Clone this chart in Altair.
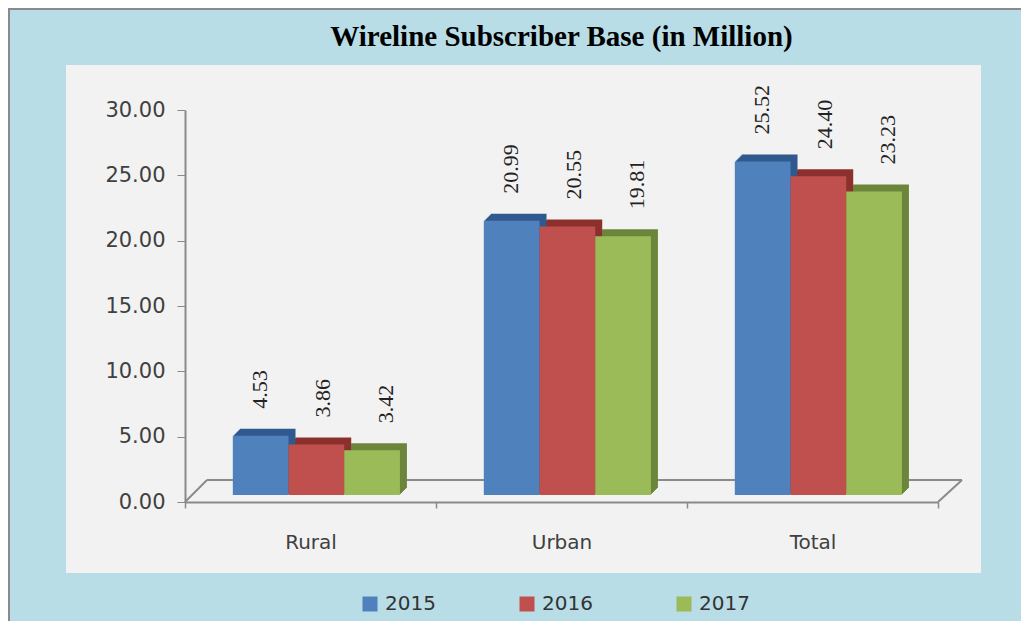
import altair as alt
import pandas as pd

categories = ["Rural", "Urban", "Total"]
years = ["2015", "2016", "2017"]
values_2015 = [4.53, 20.99, 25.52]
values_2016 = [3.86, 20.55, 24.40]
values_2017 = [3.42, 19.81, 23.23]
y_ticks = [0, 5, 10, 15, 20, 25, 30]

front_colors = ["#4f81bd", "#c0504d", "#9bbb59"]
depth_colors = ["#30598f", "#8c302d", "#6b863a"]

rows = []
for yr, vals in zip(years, [values_2015, values_2016, values_2017]):
    for c, v in zip(categories, vals):
        rows.append({"category": c, "year": yr, "value": v, "label": f"{v:.2f}"})
df = pd.DataFrame(rows)

W, H = 753, 392
PAD = {"left": 177, "top": 102, "right": 83, "bottom": 119}
LIFT = 7   # bars sit a little behind the front edge of the floor
DEPTH = 7  # 3-D extrusion depth
BAND = W / 3.0

x_enc = alt.X(
    "category:N",
    sort=categories,
    scale=alt.Scale(paddingInner=0, paddingOuter=0),
    axis=alt.Axis(
        title=None, labelAngle=0, labelFontSize=20, labelFont="DejaVu Sans",
        labelColor="#404040", domainColor="#8a8a8a", domainWidth=2,
        tickColor="#8a8a8a", tickSize=6, tickBand="extent", tickWidth=1.5,
        labelPadding=24, zindex=1,
    ),
)
y_enc = alt.Y(
    "value:Q",
    scale=alt.Scale(domain=[0, 30], nice=False),
    axis=alt.Axis(
        title=None, values=y_ticks, format=".2f", labelFontSize=21,
        labelFont="DejaVu Sans", labelColor="#404040", domainColor="#8a8a8a",
        domainWidth=2, tickColor="#8a8a8a", tickSize=8, labelPadding=12,
        grid=False, zindex=1,
    ),
)


def xoff(shift=0):
    return alt.XOffset(
        "year:N", sort=years,
        scale=alt.Scale(paddingInner=0, paddingOuter=0.753, align=0.57,
                        range=[shift, BAND + shift]),
    )


one = pd.DataFrame({"a": [0]})

panel = alt.Chart(one).mark_rect(color="#f2f2f2").encode(
    x=alt.value(66 - 185), x2=alt.value(981 - 185),
    y=alt.value(65 - 110), y2=alt.value(573 - 110),
)
border_top = alt.Chart(one).mark_rule(color="#8a8a8a", strokeWidth=2).encode(
    x=alt.value(-PAD["left"]), x2=alt.value(W + PAD["right"]),
    y=alt.value(-PAD["top"] + 1), y2=alt.value(-PAD["top"] + 1),
)
border_left = alt.Chart(one).mark_rule(color="#8a8a8a", strokeWidth=2).encode(
    x=alt.value(-PAD["left"] + 1), x2=alt.value(-PAD["left"] + 1),
    y=alt.value(-PAD["top"]), y2=alt.value(H + PAD["bottom"]),
)
floor_back = alt.Chart(one).mark_rule(color="#8a8a8a", strokeWidth=2).encode(
    x=alt.value(22), x2=alt.value(W + 24), y=alt.value(H - 22), y2=alt.value(H - 22)
)
floor_left = alt.Chart(one).mark_rule(color="#8a8a8a", strokeWidth=2).encode(
    x=alt.value(0), x2=alt.value(22), y=alt.value(H), y2=alt.value(H - 22)
)
floor_right = alt.Chart(one).mark_rule(color="#8a8a8a", strokeWidth=2).encode(
    x=alt.value(W), x2=alt.value(W + 24), y=alt.value(H), y2=alt.value(H - 22)
)

depth_layers = []
for i in range(1, DEPTH + 1):
    depth_layers.append(
        alt.Chart(df).mark_bar(yOffset=-LIFT - i, y2Offset=-LIFT - i).encode(
            x=x_enc, xOffset=xoff(i), y=y_enc,
            color=alt.Color("year:N", scale=alt.Scale(domain=years, range=depth_colors), legend=None),
        )
    )

front = alt.Chart(df).mark_bar(yOffset=-LIFT, y2Offset=-LIFT).encode(
    x=x_enc, xOffset=xoff(0), y=y_enc,
    fill=alt.Fill(
        "year:N",
        scale=alt.Scale(domain=years, range=front_colors),
        legend=alt.Legend(
            title=None, orient="none", legendX=175, legendY=484,
            direction="horizontal", symbolType="square", symbolSize=225,
            symbolStrokeWidth=0, labelFontSize=20, labelFont="DejaVu Sans",
            labelColor="#333333", columnPadding=81, labelOffset=5,
        ),
    ),
)

labels = alt.Chart(df).mark_text(
    angle=270, align="left", baseline="middle", dx=LIFT + 27, dy=7,
    font="Liberation Serif", fontSize=22, color="#222222",
).encode(
    x=x_enc,
    xOffset=alt.XOffset(
        "year:N", sort=years,
        scale=alt.Scale(type="point", padding=1.253, align=0.542, range=[0, BAND]),
    ),
    y=y_enc, text="label:N",
)

chart = alt.layer(
    panel, border_top, border_left, floor_back, floor_left, floor_right,
    *depth_layers, front, labels
).resolve_scale(color="independent", xOffset="independent").properties(
    width=W, height=H,
    padding=PAD,
    autosize=alt.AutoSizeParams(type="none"),
    background="#b8dde6",
    title=alt.Title(
        "Wireline Subscriber Base (in Million)",
        font="Liberation Serif", fontSize=29, fontWeight="bold", color="#000000",
        anchor="middle", offset=-45,
    ),
).configure_view(stroke=None)

chart.save("out.html", embed_options={"renderer": "svg", "actions": False})
